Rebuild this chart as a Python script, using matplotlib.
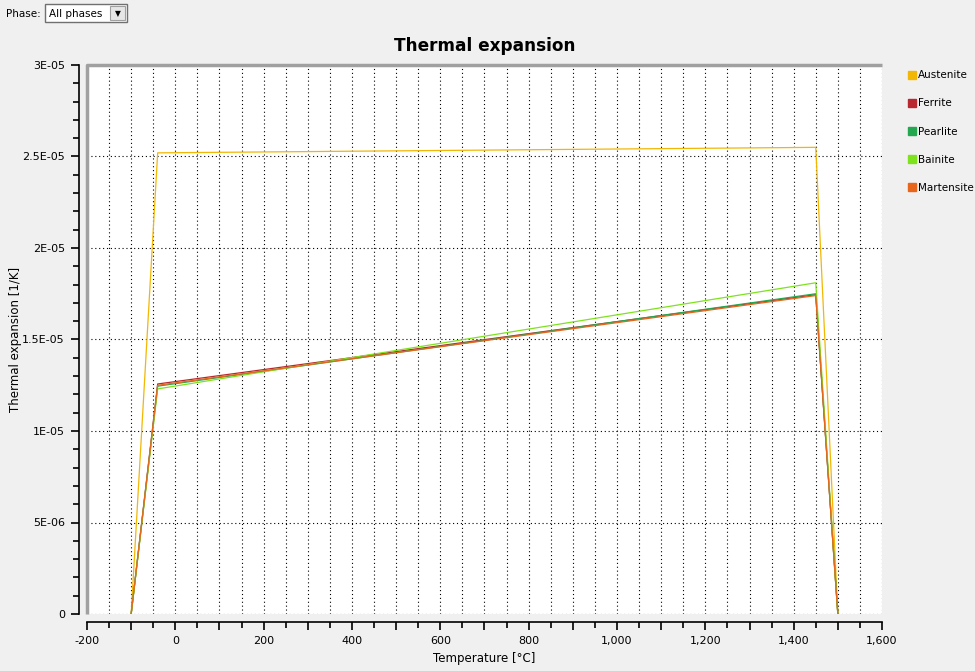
import matplotlib
matplotlib.use("Agg")
import matplotlib.pyplot as plt
from matplotlib.patches import Rectangle
from matplotlib.lines import Line2D
from matplotlib.ticker import MultipleLocator, FuncFormatter

# data
temps = [-100, -40, 1450, 1500]
austenite = [0, 2.52e-05, 2.55e-05, 0]
ferrite = [0, 1.257e-05, 1.745e-05, 0]
pearlite = [0, 1.245e-05, 1.75e-05, 0]
bainite = [0, 1.23e-05, 1.81e-05, 0]
martensite = [0, 1.25e-05, 1.74e-05, 0]

phases = ["Austenite", "Ferrite", "Pearlite", "Bainite", "Martensite"]
series = [austenite, ferrite, pearlite, bainite, martensite]
colors = ["#f2b705", "#b8282e", "#23a850", "#7ee21e", "#e8661c"]

ytick_labels = {0: "0", 5: "5E-06", 10: "1E-05", 15: "1.5E-05",
                20: "2E-05", 25: "2.5E-05", 30: "3E-05"}

W, H = 975, 671
fig = plt.figure(figsize=(W / 100, H / 100), dpi=100)
fig.patch.set_facecolor("#f0f0f0")
plt.rcParams['font.family'] = ['DejaVu Sans']

ax = fig.add_axes([87 / W, (H - 614) / H, (882 - 87) / W, (614 - 65) / H])
ax.set_facecolor("white")

for name, vals, c in zip(phases, series, colors):
    ax.plot(temps, vals, color=c, lw=0.9, label=name)

ax.set_xlim(-200, 1600)
ax.set_ylim(0, 3e-05)

ax.xaxis.set_major_locator(MultipleLocator(100))
ax.xaxis.set_minor_locator(MultipleLocator(50))
ax.xaxis.set_major_formatter(FuncFormatter(
    lambda v, p: "{:,.0f}".format(v) if round(v) % 200 == 0 else ""))
ax.yaxis.set_major_locator(MultipleLocator(5e-06))
ax.yaxis.set_minor_locator(MultipleLocator(1e-06))
ax.yaxis.set_major_formatter(FuncFormatter(
    lambda v, p: ytick_labels.get(int(round(v * 1e6)), "")))

ax.grid(True, which="both", axis="x", color="black", ls=(0, (1, 2.5)), lw=0.8)
ax.grid(True, which="major", axis="y", color="black", ls=(0, (1, 2.5)), lw=0.8)
ax.set_axisbelow(True)

for s in ["top", "right"]:
    ax.spines[s].set_visible(False)
for s in ["left", "bottom"]:
    ax.spines[s].set_position(("outward", 6))
    ax.spines[s].set_color("black")
    ax.spines[s].set_linewidth(1.2)

ax.tick_params(which="major", length=6, width=1.2, labelsize=8, colors="black", pad=4)
ax.tick_params(which="minor", length=4, width=1.2)

# gray border on the left and top of the plot area
ax.plot([0, 0, 1], [0, 1, 1], transform=ax.transAxes, color="#a0a0a0",
        lw=2.5, clip_on=False, zorder=5, solid_capstyle="butt")

ax.set_xlabel("Temperature [°C]", fontsize=8.5, labelpad=4)
ax.set_ylabel("Thermal expansion [1/K]", fontsize=8.5)
ax.yaxis.set_label_coords((22 - 87) / 795, 0.5)
ax.set_title("Thermal expansion", fontsize=12.2, fontweight="bold", pad=10)

# legend
handles = [Line2D([], [], ls="", marker="s", markersize=6, color=c,
                  markeredgecolor=c) for c in colors]
fig.legend(handles, phases, loc="upper left", bbox_to_anchor=(903 / W, 1 - 66 / H),
           frameon=False, fontsize=7.5, labelspacing=1.75, handletextpad=0.0,
           handlelength=1.0, borderaxespad=0)

# phase selector
fig.text(6 / W, 1 - 14 / H, "Phase:", fontsize=7.5, va="center")
fig.patches.append(Rectangle((45 / W, 1 - 22 / H), 82 / W, 18 / H,
                             transform=fig.transFigure, facecolor="white",
                             edgecolor="#707070", lw=1))
fig.patches.append(Rectangle((110 / W, 1 - 20 / H), 15 / W, 14 / H,
                             transform=fig.transFigure, facecolor="#e6e6e6",
                             edgecolor="#a0a0a0", lw=0.8))
fig.text(49 / W, 1 - 14 / H, "All phases", fontsize=7.5, va="center")
fig.text(117.5 / W, 1 - 13.5 / H, "▼", fontsize=5.5, va="center", ha="center")

fig.savefig("out.png", dpi=100, facecolor=fig.get_facecolor())
